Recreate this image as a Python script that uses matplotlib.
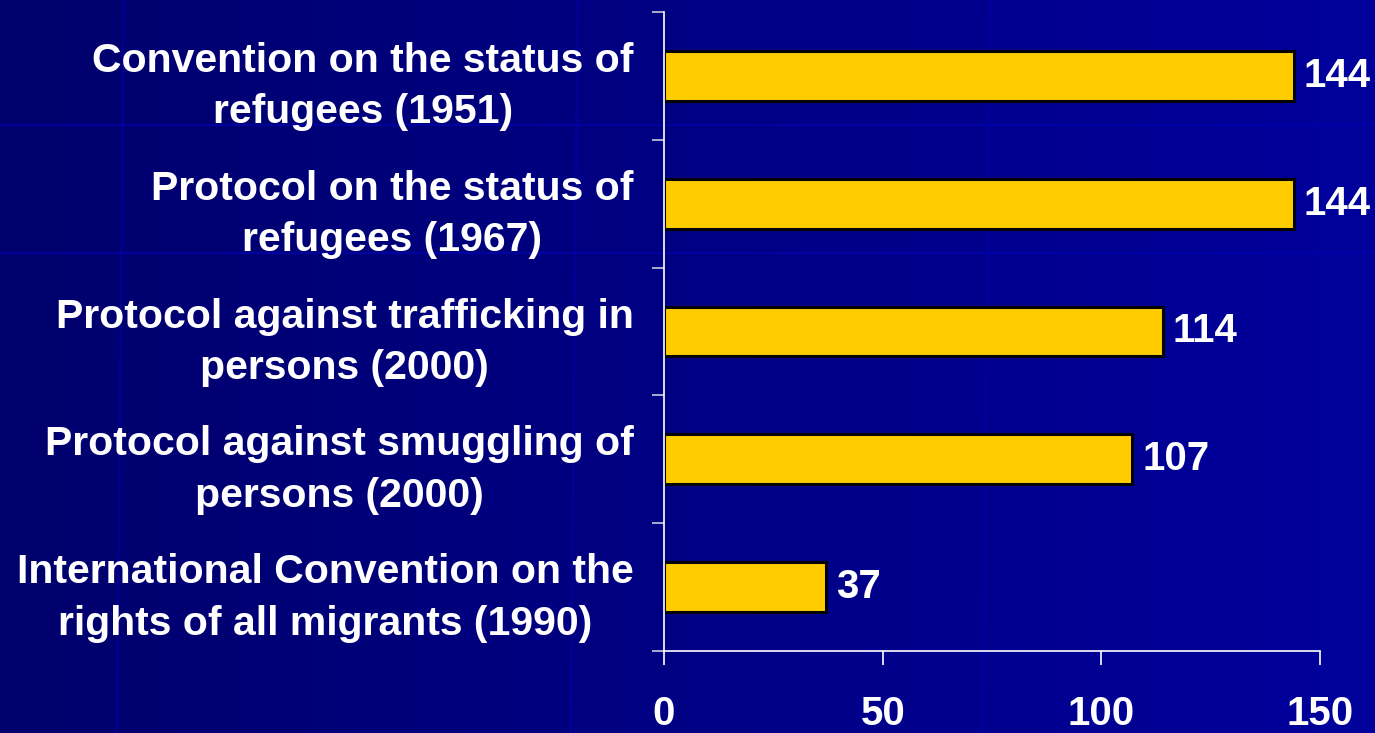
import numpy as np
import matplotlib.pyplot as plt
from matplotlib.colors import LinearSegmentedColormap

labels = ["Convention on the status of\nrefugees (1951)",
          "Protocol on the status of\nrefugees (1967)",
          "Protocol against trafficking in\npersons (2000)",
          "Protocol against smuggling of\npersons (2000)",
          "International Convention on the\nrights of all migrants (1990)"]
values = [144, 144, 114, 107, 37]
xticks = [0, 50, 100, 150]

fig = plt.figure(figsize=(13.75, 7.33), dpi=100)

# background gradient
bg = fig.add_axes([0, 0, 1, 1])
cmap = LinearSegmentedColormap.from_list("bg", ["#00006c", "#000084", "#00009c"])
grad = np.linspace(0, 1, 256).reshape(1, -1)
bg.imshow(grad, aspect="auto", cmap=cmap, extent=[0, 1, 0, 1])
# faint decorative lines
for yy in [0.83, 0.655]:
    bg.plot([0, 1], [yy, yy], color="#0000b0", lw=1.5, alpha=0.7)
for xx in [0.09, 0.42, 0.72]:
    bg.plot([xx, xx - 0.005], [1, 0], color="#0000b0", lw=1.5, alpha=0.6)
bg.set_xlim(0, 1)
bg.set_ylim(0, 1)
bg.axis("off")

ax = fig.add_axes([664/1375, 82/733, 656/1375, 639/733])
ax.patch.set_alpha(0)
y = np.arange(len(values))
ax.barh(y, values, height=0.39, color="#ffcc00", edgecolor="black", linewidth=2.2)
ax.set_ylim(len(values) - 0.5, -0.5)
ax.set_xlim(0, 150)

for yi, v in zip(y, values):
    ax.text(v + 2.3, yi, str(v), va="center", ha="left", color="white",
            fontsize=29, fontweight="bold", family="Liberation Sans", clip_on=False)

ax.set_yticks(y)
ax.set_yticklabels(labels, fontsize=29.5, fontweight="bold", color="white",
                   family="Liberation Sans", linespacing=1.45)
for t in ax.get_yticklabels():
    t.set_multialignment("center")
ax.tick_params(axis="y", which="major", length=0, pad=22)
ax.set_yticks(np.arange(len(values) + 1) - 0.5, minor=True)
ax.tick_params(axis="y", which="minor", length=9, color="#c8c8e0", width=1.2)

ax.set_xticks(xticks)
ax.set_xticklabels([str(t) for t in xticks], fontsize=29, fontweight="bold",
                   color="white", family=["Liberation Sans Narrow", "Liberation Sans"])
ax.tick_params(axis="x", length=10, color="white", width=1.2, pad=22)

for s in ["top", "right"]:
    ax.spines[s].set_visible(False)
for s in ["left", "bottom"]:
    ax.spines[s].set_color("white")
    ax.spines[s].set_linewidth(1.2)

fig.savefig("out.png", dpi=100, facecolor="#000080")
